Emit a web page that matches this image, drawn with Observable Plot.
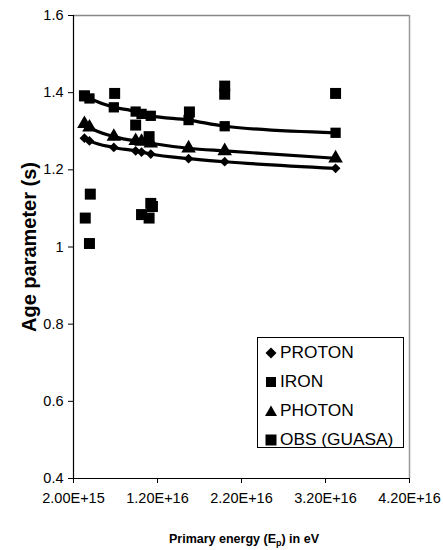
<!DOCTYPE html>
<html><head><meta charset="utf-8">
<script src="https://cdn.jsdelivr.net/npm/d3@7"></script>
<script src="https://cdn.jsdelivr.net/npm/@observablehq/plot@0.6"></script>
<style>
body{margin:0;background:#fff}
#wrap{position:relative;width:443px;height:550px;font-family:Arial,"Liberation Sans",sans-serif;background:#fff}
#legend{position:absolute;left:257px;top:337px;width:145px;height:109px;border:1px solid #000;background:#fff}
#legend .row{display:flex;align-items:center;height:29px;padding-left:6px;font-size:17.3px;color:#000}
#legend svg{width:14px;height:14px;margin-right:2px;flex:none}
</style>
</head><body><div id="wrap"></div>
<script>
// Primary energy (eV) of simulated points
const energies = [3.3e15, 3.9e15, 6.8e15, 9.4e15, 1.01e16, 1.12e16, 1.57e16, 2.0e16, 3.32e16];
const proton = [1.282, 1.275, 1.258, 1.249, 1.246, 1.241, 1.229, 1.221, 1.204];
const iron   = [1.391, 1.385, 1.362, 1.351, 1.345, 1.340, 1.329, 1.313, 1.296];
const photon = [1.319, 1.310, 1.286, 1.275, 1.273, 1.269, 1.256, 1.249, 1.230];
// Observed (GUASA)
const obsEnergy = [3.3e15, 3.4e15, 4.0e15, 3.9e15, 6.9e15, 9.4e15, 1.01e16, 1.1e16, 1.1e16, 1.12e16, 1.14e16, 1.58e16, 2.0e16, 2.0e16, 3.32e16];
const obsAge    = [1.392, 1.075, 1.137, 1.009, 1.398, 1.316, 1.084, 1.286, 1.075, 1.113, 1.105, 1.350, 1.417, 1.396, 1.398];

const xTicks = [2e15, 1.2e16, 2.2e16, 3.2e16, 4.2e16];
const xTickLabels = ["2.00E+15", "1.20E+16", "2.20E+16", "3.20E+16", "4.20E+16"];
const yTicks = [0.4, 0.6, 0.8, 1.0, 1.2, 1.4, 1.6];
const yTickLabels = ["0.4", "0.6", "0.8", "1", "1.2", "1.4", "1.6"];

const seriesNames = ["PROTON", "IRON", "PHOTON"];
const seriesVals = [proton, iron, photon];
const seriesSymbols = ["diamond2", "square", "triangle"];
const seriesR = [4.4, 5.8, 5.4];

const model = [];
seriesNames.forEach((name, s) => energies.forEach((e, i) => model.push({series: name, e, s: seriesVals[s][i]})));
const obs = obsEnergy.map((e, i) => ({e, s: obsAge[i]}));

const xMap = new Map(xTicks.map((t, i) => [t, xTickLabels[i]]));
const yMap = new Map(yTicks.map((t, i) => [t, yTickLabels[i]]));

const marks = [
  Plot.ruleY([1.6], {stroke: "#888", strokeWidth: 1.5}),
  Plot.ruleX([4.2e16], {stroke: "#999", strokeWidth: 1.5}),
  Plot.ruleX([2e15], {stroke: "#000", strokeWidth: 1.2}),
  Plot.ruleY([0.4], {stroke: "#000", strokeWidth: 1.2}),
  Plot.axisX({ticks: xTicks, tickFormat: d => xMap.get(d), tickSize: 5, tickPadding: 9, label: null, fontSize: 14.5}),
  Plot.axisY({ticks: yTicks, tickFormat: d => yMap.get(d), tickSize: 5, tickPadding: 5, label: null, fontSize: 14.5})
];
seriesNames.forEach((name, s) => {
  const data = model.filter(d => d.series === name);
  marks.push(Plot.line(data, {x: "e", y: "s", stroke: "#000", strokeWidth: 3.2, curve: "monotone-x"}));
  marks.push(Plot.dot(data, {x: "e", y: "s", symbol: () => seriesSymbols[s], r: seriesR[s], fill: "#000", stroke: "none"}));
});
marks.push(Plot.dot(obs, {x: "e", y: "s", symbol: "square", r: 6.2, fill: "#000", stroke: "none"}));

const chart = Plot.plot({
  width: 443, height: 550,
  marginLeft: 73, marginRight: 34, marginTop: 15, marginBottom: 72,
  style: {fontFamily: "Arial, 'Liberation Sans', sans-serif", color: "#000", background: "#fff"},
  x: {domain: [2e15, 4.2e16]},
  y: {domain: [0.4, 1.6]},
  symbol: {type: "identity"},
  marks
});

const svg = d3.select(chart);
svg.append("text")
  .attr("transform", "translate(36,247) rotate(-90)")
  .attr("text-anchor", "middle")
  .style("font-weight", "bold").style("font-size", "20px").style("fill", "#000")
  .text("Age parameter (s)");
const xt = svg.append("text")
  .attr("x", 244).attr("y", 543)
  .attr("text-anchor", "middle")
  .style("font-weight", "bold").style("font-size", "12.5px").style("fill", "#000");
xt.append("tspan").text("Primary energy (E");
xt.append("tspan").attr("dy", 3).style("font-size", "9px").text("p");
xt.append("tspan").attr("dy", -3).text(") in eV");

const wrap = document.getElementById("wrap");
wrap.appendChild(chart);

const legendItems = ["PROTON", "IRON", "PHOTON", "OBS (GUASA)"];
const legendShapes = [
  '<polygon points="7,1.5 12.5,7 7,12.5 1.5,7" fill="#000"/>',
  '<rect x="2" y="2" width="10" height="10" fill="#000"/>',
  '<polygon points="7,1.5 13,12 1,12" fill="#000"/>',
  '<rect x="1.5" y="1.5" width="11" height="11" fill="#000"/>'
];
const legend = document.createElement("div");
legend.id = "legend";
legend.innerHTML = legendItems.map((t, i) =>
  `<div class="row"><svg viewBox="0 0 14 14">${legendShapes[i]}</svg><span>${t}</span></div>`).join("");
wrap.appendChild(legend);
</script>
</body></html>
